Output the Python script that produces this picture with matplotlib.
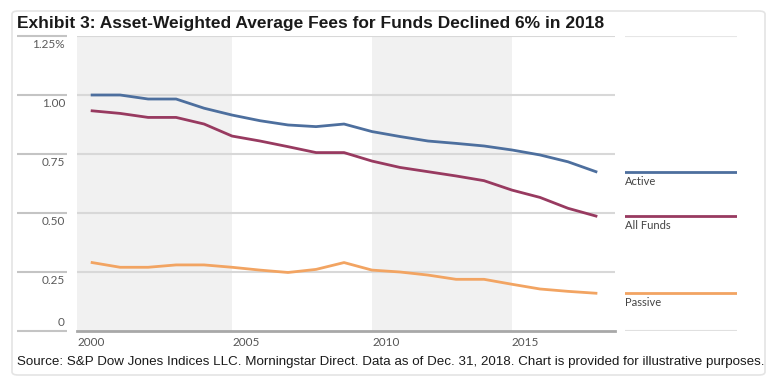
import matplotlib.pyplot as plt
from matplotlib.patches import FancyBboxPatch

# Asset-weighted average fees (%) by year
years = list(range(2000, 2019))
active = [1.00, 1.00, 0.983, 0.983, 0.944, 0.915, 0.891, 0.873, 0.866, 0.877,
          0.845, 0.824, 0.805, 0.795, 0.784, 0.767, 0.746, 0.717, 0.675]
all_funds = [0.933, 0.922, 0.905, 0.905, 0.877, 0.826, 0.805, 0.781, 0.756, 0.756,
             0.720, 0.693, 0.675, 0.657, 0.637, 0.597, 0.566, 0.520, 0.487]
passive = [0.29, 0.27, 0.27, 0.28, 0.28, 0.27, 0.258, 0.248, 0.261, 0.29,
           0.258, 0.25, 0.237, 0.219, 0.219, 0.198, 0.178, 0.168, 0.160]

series_names = ['Active', 'All Funds', 'Passive']
series_colors = ['#4d6f9e', '#983a60', '#f2a462']

y_ticks = [0, 0.25, 0.5, 0.75, 1.0, 1.25]
y_tick_labels = ['0', '0.25', '0.50', '0.75', '1.00', '1.25%']
x_tick_years = [2000, 2005, 2010, 2015]
shaded = [(None, 2005), (2010, 2015)]

W, H = 779, 387
fig = plt.figure(figsize=(W / 100, H / 100), dpi=100)

# card background (behind everything)
card = FancyBboxPatch((12 / W, 12 / H), 753 / W, 364 / H,
                      boxstyle='round,pad=0,rounding_size=0.008',
                      transform=fig.transFigure, facecolor='white',
                      edgecolor='#e4e4e4', linewidth=1.2, zorder=-10)
fig.patches.append(card)

fig.text(17 / W, (H - 28) / H, 'Exhibit 3: Asset-Weighted Average Fees for Funds Declined 6% in 2018',
         family='Liberation Sans', weight='bold', fontsize=12.5, color='#1a1a1a', va='baseline')
fig.text(17 / W, (H - 362) / H,
         'Source: S&P Dow Jones Indices LLC. Morningstar Direct. Data as of Dec. 31, 2018. '
         'Chart is provided for illustrative purposes.',
         family='Liberation Sans', fontsize=9.6, color='#1a1a1a', va='center')

# main plot
ax = fig.add_axes([77 / W, 56 / H, 538 / W, 295 / H])
ax.patch.set_alpha(0)
x_left = years[0] - 0.54
ax.set_xlim(x_left, years[-1] + 0.68)
ax.set_ylim(0, 1.25)

for a, b in shaded:
    ax.axvspan(x_left if a is None else a, b, color='#f1f1f1', zorder=0, lw=0)

for t in y_ticks[1:]:
    ax.axhline(t, color='#d8d8d8', lw=1.5, zorder=1)

ax.plot(years, active, color=series_colors[0], lw=2, zorder=3)
ax.plot(years, all_funds, color=series_colors[1], lw=2, zorder=3)
ax.plot(years, passive, color=series_colors[2], lw=2, zorder=3)

for s in ['top', 'right']:
    ax.spines[s].set_visible(False)
ax.spines['left'].set_visible(False)
ax.spines['left'].set_position(('outward', 7))
ax.spines['bottom'].set_color('#a8a8a8')
ax.spines['bottom'].set_linewidth(2)

# y ticks are long gray dashes to the left, labels below them (the zero label sits above)
ax.set_yticks(y_ticks)
ax.tick_params(axis='y', length=36, width=1.5, color='#c4c4c4', labelleft=False)
for t, lab in zip(y_ticks, y_tick_labels):
    above = (t == 0)
    ax.annotate(lab, xy=(0, t), xycoords=('axes fraction', 'data'),
                xytext=(-12, 3 if above else -3), textcoords='offset pixels', ha='right',
                va='bottom' if above else 'top',
                family='Lato', fontsize=8.5, color='#5a5a5a')

ax.set_xticks([x_left] + x_tick_years[1:])
ax.set_xticklabels([str(y) for y in x_tick_years], family='Lato', fontsize=8.5,
                   color='#555555', ha='left')
ax.tick_params(axis='x', length=0, pad=4)

# legend panel on the right
lax = fig.add_axes([625 / W, 56 / H, 112 / W, 295 / H])
lax.set_xlim(0, 1)
lax.set_ylim(0, 1.25)
lax.axis('off')
lax.axhline(0, color='#e0e0e0', lw=1.5)
lax.axhline(1.25, color='#e6e6e6', lw=1.5)
for vals, name, c in zip([active, all_funds, passive], series_names, series_colors):
    lax.axhline(vals[-1], color=c, lw=2)
    lax.annotate(name, xy=(0, vals[-1]), xycoords='data', xytext=(0, -4),
                 textcoords='offset pixels', ha='left', va='top',
                 family='Lato', fontsize=8, color='#444444')

fig.savefig('out.png', dpi=100)
